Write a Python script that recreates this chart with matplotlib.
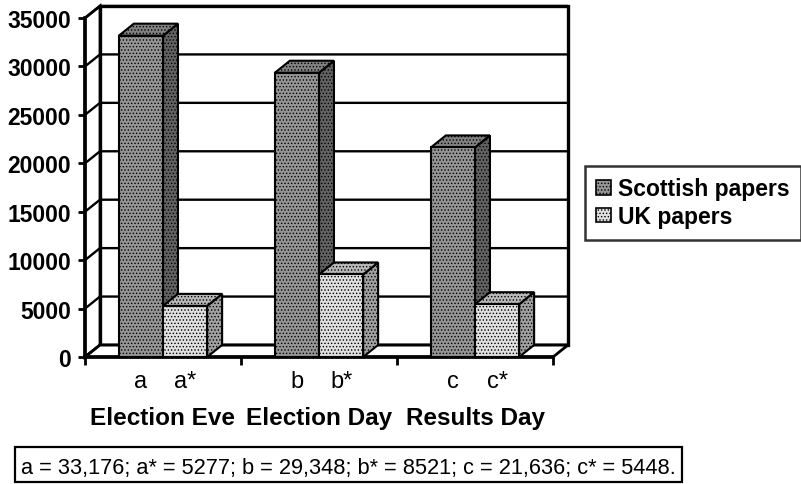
import matplotlib
matplotlib.use('Agg')
import matplotlib.pyplot as plt
from matplotlib import font_manager
from matplotlib.patches import Polygon, Rectangle, Patch

# circulation figures per day
periods = ['Election Eve', 'Election Day', 'Results Day']
scottish = [33176, 29348, 21636]
uk = [5277, 8521, 5448]
scottish_labels = ['a', 'b', 'c']
uk_labels = ['a*', 'b*', 'c*']
yticks = [0, 5000, 10000, 15000, 20000, 25000, 30000, 35000]
note = 'a = 33,176; a* = 5277; b = 29,348; b* = 8521; c = 21,636; c* = 5448.'

plt.rcParams['font.family'] = ['Liberation Sans', 'DejaVu Sans']
plt.rcParams['hatch.linewidth'] = 0.6

# condensed face for the small labels if we have it
installed = {f.name for f in font_manager.fontManager.ttflist}
if 'Liberation Sans Narrow' in installed:
    narrow, note_size, lab_size = ['Liberation Sans Narrow', 'Liberation Sans'], 19, 19
else:
    narrow, note_size, lab_size = ['Liberation Sans', 'DejaVu Sans'], 15.7, 17

# greys for front / side / top faces
scot_cols = ('#959595', '#626262', '#828282')
uk_cols = ('#e0e0e0', '#a0a0a0', '#b8b8b8')
stipple = '.....'

fig = plt.figure(figsize=(8.01, 4.85), dpi=100)
ax = fig.add_axes([85 / 801, 127 / 485, 468 / 801, 339 / 485])
ymax = yticks[-1]
ncat = len(periods)
ax.set_xlim(0, ncat)
ax.set_ylim(0, ymax)

dx = 0.096   # depth of the box, in category units
dy = 1240    # depth of the box, in value units
bw = 0.283   # bar width

# back wall, side wall and floor
ax.add_patch(Polygon([(dx, dy), (ncat + dx, dy), (ncat + dx, ymax + dy), (dx, ymax + dy)],
                     fc='white', ec='black', lw=2.4, clip_on=False, zorder=1))
ax.add_patch(Polygon([(0, 0), (dx, dy), (dx, ymax + dy), (0, ymax)],
                     fc='white', ec='black', lw=2.0, clip_on=False, zorder=1))
ax.add_patch(Polygon([(0, 0), (ncat, 0), (ncat + dx, dy), (dx, dy)],
                     fc='white', ec='black', lw=2.0, clip_on=False, zorder=1))
for v in yticks:
    ax.plot([0, dx, ncat + dx], [v, v + dy, v + dy], color='black', lw=1.7,
            clip_on=False, zorder=1.5, solid_capstyle='butt')


def box(x0, h, cols):
    front, side, top = cols
    kw = dict(ec='black', lw=1.5, clip_on=False, zorder=3, hatch=stipple)
    ax.add_patch(Polygon([(x0 + bw, 0), (x0 + bw + dx, dy), (x0 + bw + dx, h + dy), (x0 + bw, h)],
                         fc=side, **kw))
    ax.add_patch(Polygon([(x0, h), (x0 + bw, h), (x0 + bw + dx, h + dy), (x0 + dx, h + dy)],
                         fc=top, **kw))
    ax.add_patch(Rectangle((x0, 0), bw, h, fc=front, **kw))


centers = []
for i in range(ncat):
    mid = i + 0.5
    box(mid - bw, scottish[i], scot_cols)
    box(mid, uk[i], uk_cols)
    centers += [mid - bw / 2, mid + bw / 2]

for s in ['top', 'right']:
    ax.spines[s].set_visible(False)
ax.spines['left'].set_linewidth(2.6)
ax.spines['bottom'].set_linewidth(2.6)
ax.spines['left'].set_zorder(4)
ax.spines['bottom'].set_zorder(2)
ax.set_facecolor('none')

ax.set_yticks(yticks)
ax.set_yticklabels([str(v) for v in yticks], fontsize=16.5, fontweight='bold')
ax.tick_params(axis='y', length=5, width=2, pad=5)

ax.set_xticks(range(ncat + 1))
ax.set_xticklabels([])
ax.tick_params(axis='x', which='major', length=6, width=2, direction='out')
ax.set_xticks(centers, minor=True)
ax.set_xticklabels([])
ax.tick_params(axis='x', which='minor', length=0)

xlab = []
for s, u in zip(scottish_labels, uk_labels):
    xlab += [s, u]
for x, lab in zip(centers, xlab):
    ax.text(x, -30 / 339, lab, transform=ax.get_xaxis_transform(), ha='center',
            va='baseline', fontsize=lab_size, family=narrow)

for i, name in enumerate(periods):
    ax.text(i + 0.5, -67 / 339, name, transform=ax.get_xaxis_transform(),
            ha='center', va='baseline', fontsize=17.5, fontweight='bold')

# legend
handles = [Patch(fc=scot_cols[0], ec='black', lw=1.2, hatch=stipple, label='Scottish papers'),
           Patch(fc=uk_cols[0], ec='black', lw=1.2, hatch=stipple, label='UK papers')]
leg = ax.legend(handles=handles, loc='upper left', bbox_to_anchor=(585 / 801, 1 - 167 / 485),
                bbox_transform=fig.transFigure, fancybox=False, frameon=True,
                prop={'weight': 'bold', 'size': 16.5}, handlelength=0.65, handleheight=0.6,
                handletextpad=0.3, borderpad=0.5, labelspacing=0.2, borderaxespad=0)
leg.get_frame().set_edgecolor('black')
leg.get_frame().set_linewidth(1.8)

# footnote with the raw values
fig.patches.append(Rectangle((15 / 801, 1 - 483 / 485), 667 / 801, 35 / 485,
                             transform=fig.transFigure, fc='white', ec='black', lw=1.6))
fig.text(21 / 801, 1 - 474 / 485, note, ha='left', va='baseline', fontsize=note_size,
         family=narrow)

fig.savefig('out.png', dpi=100)
